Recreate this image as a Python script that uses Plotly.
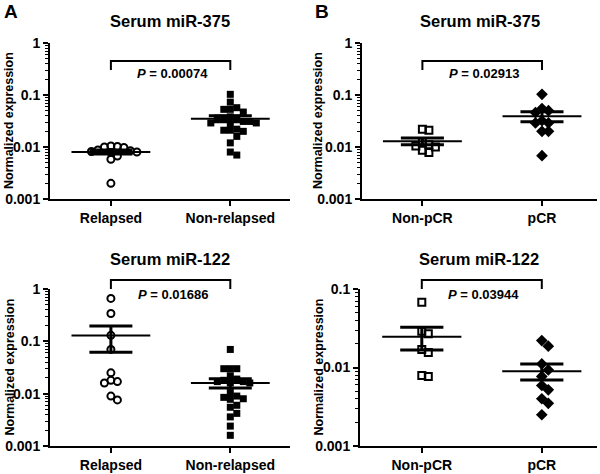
import numpy as np
import plotly.graph_objects as go

# ---------------- data ----------------
relapsed_375 = [0.0105, 0.0102, 0.0100, 0.0098, 0.0088, 0.0085, 0.0082, 0.0080, 0.0078, 0.0067, 0.0058, 0.0020]
nonrelapsed_375 = [0.103, 0.073, 0.057, 0.053, 0.053, 0.047, 0.038, 0.036, 0.036, 0.036, 0.031, 0.031,
                   0.029, 0.029, 0.028, 0.022, 0.021, 0.021, 0.020, 0.016, 0.012, 0.008, 0.007]
nonpcr_375 = [0.022, 0.021, 0.0125, 0.011, 0.0105, 0.0100, 0.0087, 0.0078]
pcr_375 = [0.103, 0.055, 0.050, 0.046, 0.032, 0.029, 0.029, 0.020, 0.020, 0.0068]

relapsed_122 = [0.66, 0.34, 0.13, 0.07, 0.025, 0.018, 0.017, 0.016, 0.0090, 0.0076]
nonrelapsed_122 = [0.070, 0.030, 0.030, 0.030, 0.022, 0.019, 0.018, 0.017, 0.017, 0.016, 0.016,
                   0.0105, 0.0090, 0.0085, 0.0080, 0.0078, 0.0060, 0.0055, 0.0042, 0.0036, 0.0024, 0.0016]
nonpcr_122 = [0.068, 0.029, 0.027, 0.017, 0.0155, 0.0079, 0.0077]
pcr_122 = [0.022, 0.0187, 0.0111, 0.0093, 0.0077, 0.0059, 0.0052, 0.0040, 0.0035, 0.0025]

groups_A = ["Relapsed", "Non-relapsed"]
groups_B = ["Non-pCR", "pCR"]
titles = ["Serum miR-375", "Serum miR-375", "Serum miR-122", "Serum miR-122"]
p_values = ["0.00074", "0.02913", "0.01686", "0.03944"]
y_label = "Normalized expression"
ytick_vals = [0.001, 0.01, 0.1, 1]
ytick_text = ["0.001", "0.01", "0.1", "1"]

# ---------------- layout geometry (pixels in the window) ----------------
W, H = 600, 474
FONT = "Arial, Liberation Sans, sans-serif"

panels = [
    dict(data=[relapsed_375, nonrelapsed_375], cats=groups_A, sym=["circle-open", "square"],
         x0=50, x1=290, ytop=43, ybot=199, yr=(-3, 0), xr=(-0.51, 1.5)),
    dict(data=[nonpcr_375, pcr_375], cats=groups_B, sym=["square-open", "diamond"],
         x0=362, x1=597, ytop=43, ybot=199, yr=(-3, 0), xr=(-0.505, 1.46)),
    dict(data=[relapsed_122, nonrelapsed_122], cats=groups_A, sym=["circle-open", "square"],
         x0=50, x1=290, ytop=289, ybot=446, yr=(-3, 0), xr=(-0.51, 1.5)),
    dict(data=[nonpcr_122, pcr_122], cats=groups_B, sym=["square-open", "diamond"],
         x0=360, x1=597, ytop=289, ybot=446, yr=(-3, -1), xr=(-0.515, 1.46)),
]


def swarm(vals, px_dec, px_unit, step, mind):
    """Simple beeswarm: horizontal offsets (in category units) so markers barely overlap."""
    y = np.log10(np.asarray(vals, dtype=float)) * px_dec
    order = np.argsort(-y)
    placed = []
    offs = np.zeros(len(vals))
    cands = [0.0]
    for j in range(1, 40):
        cands += [j * step, -j * step]
    for i in order:
        for c in cands:
            ok = True
            for (px, py) in placed:
                if (px - c) ** 2 + (py - y[i]) ** 2 < mind ** 2:
                    ok = False
                    break
            if ok:
                placed.append((c, y[i]))
                offs[i] = c / px_unit
                break
    return offs


def px2x(px):
    return px / W


def px2y(py):
    return 1 - py / H


fig = go.Figure()
layout = dict(width=W, height=H, margin=dict(l=0, r=0, t=0, b=0, pad=0, autoexpand=False),
              paper_bgcolor="white", plot_bgcolor="white", showlegend=False,
              font=dict(family=FONT, color="black"))
annotations = []
shapes = []

minor_vals = [m * 10.0 ** e for e in range(-3, 1) for m in range(2, 10)]

for k, p in enumerate(panels):
    n = k + 1
    xa = "x" if n == 1 else f"x{n}"
    ya = "y" if n == 1 else f"y{n}"
    xkey = "xaxis" if n == 1 else f"xaxis{n}"
    ykey = "yaxis" if n == 1 else f"yaxis{n}"
    px_unit = (p["x1"] - p["x0"]) / (p["xr"][1] - p["xr"][0])
    px_dec = (p["ybot"] - p["ytop"]) / (p["yr"][1] - p["yr"][0])

    layout[xkey] = dict(domain=[px2x(p["x0"]), px2x(p["x1"])], range=list(p["xr"]), anchor=ya,
                        showline=True, linecolor="black", linewidth=2, mirror=False,
                        ticks="outside", ticklen=5, tickwidth=2, tickcolor="black",
                        tickvals=[0, 1], ticktext=p["cats"], showgrid=False, zeroline=False,
                        tickfont=dict(size=14, family=FONT, color="black", weight="bold"),
                        automargin=False, fixedrange=True)
    layout[ykey] = dict(domain=[px2y(p["ybot"]), px2y(p["ytop"])], type="log", range=list(p["yr"]),
                        anchor=xa, showline=True, linecolor="black", linewidth=2,
                        ticks="outside", ticklen=5, tickwidth=2, tickcolor="black",
                        tickvals=ytick_vals, ticktext=ytick_text, showgrid=False, zeroline=False,
                        tickfont=dict(size=14, family=FONT, color="black", weight="bold"),
                        minor=dict(ticks="outside", ticklen=3, tickwidth=1, tickcolor="black",
                                   tickvals=minor_vals, showgrid=False),
                        automargin=False, fixedrange=True)

    for gi, vals in enumerate(p["data"]):
        vals = np.asarray(vals, dtype=float)
        offs = swarm(vals, px_dec, px_unit, 6.5, 6.3)
        sym = p["sym"][gi]
        is_open = sym.endswith("open")
        size = 9 if sym == "diamond" else 7
        fig.add_trace(go.Scatter(
            x=gi + offs, y=vals, mode="markers", xaxis=xa, yaxis=ya,
            marker=dict(symbol=sym, size=size, color="black",
                        line=dict(color="black", width=2 if is_open else 0)),
            hoverinfo="skip"))
        mean = vals.mean()
        sem = vals.std(ddof=1) / np.sqrt(len(vals))
        # mean line
        fig.add_trace(go.Scatter(x=[gi - 0.33, gi + 0.33], y=[mean, mean], mode="lines",
                                 xaxis=xa, yaxis=ya, line=dict(color="black", width=2),
                                 hoverinfo="skip"))
        # SEM bars
        for v in (mean + sem, mean - sem):
            fig.add_trace(go.Scatter(x=[gi - 0.18, gi + 0.18], y=[v, v], mode="lines",
                                     xaxis=xa, yaxis=ya, line=dict(color="black", width=3),
                                     hoverinfo="skip"))
        fig.add_trace(go.Scatter(x=[gi, gi], y=[mean - sem, mean + sem], mode="lines",
                                 xaxis=xa, yaxis=ya, line=dict(color="black", width=3),
                                 hoverinfo="skip"))

    # significance bracket
    if p["ytop"] < 100:
        b_top, b_bot, t_y = 61, 70, 73
    else:
        b_top, b_bot, t_y = 280, 289, 294
    xl = p["x0"] + (0 - p["xr"][0]) * px_unit
    xr_ = p["x0"] + (1 - p["xr"][0]) * px_unit
    shapes.append(dict(type="path", xref="paper", yref="paper",
                       path=f"M {px2x(xl)},{px2y(b_bot)} L {px2x(xl)},{px2y(b_top)} "
                            f"L {px2x(xr_)},{px2y(b_top)} L {px2x(xr_)},{px2y(b_bot)}",
                       line=dict(color="black", width=2)))
    annotations.append(dict(xref="paper", yref="paper", x=px2x((xl + xr_) / 2 + 2), y=px2y(t_y),
                            text=f"<b><i>P</i> = {p_values[k]}</b>", showarrow=False,
                            font=dict(size=13, family=FONT, color="black"),
                            xanchor="center", yanchor="middle"))
    # title
    title_y = 21 if p["ytop"] < 100 else 259
    annotations.append(dict(xref="paper", yref="paper", x=px2x((p["x0"] + p["x1"]) / 2),
                            y=px2y(title_y), text=f"<b>{titles[k]}</b>", showarrow=False,
                            font=dict(size=16.5, family=FONT, color="black"),
                            xanchor="center", yanchor="middle"))
    # y label
    lab_x = 9 if p["x0"] < 100 else 318
    annotations.append(dict(xref="paper", yref="paper", x=px2x(lab_x),
                            y=px2y((p["ytop"] + p["ybot"]) / 2), text=f"<b>{y_label}</b>",
                            showarrow=False, textangle=-90,
                            font=dict(size=12.5, family=FONT, color="black"),
                            xanchor="center", yanchor="middle"))

# panel letters
annotations.append(dict(xref="paper", yref="paper", x=px2x(11), y=px2y(11), text="<b>A</b>",
                        showarrow=False, font=dict(size=19, family=FONT, color="black"),
                        xanchor="center", yanchor="middle"))
annotations.append(dict(xref="paper", yref="paper", x=px2x(322), y=px2y(11), text="<b>B</b>",
                        showarrow=False, font=dict(size=19, family=FONT, color="black"),
                        xanchor="center", yanchor="middle"))

layout["annotations"] = annotations
layout["shapes"] = shapes
fig.update_layout(**layout)
# remove the default page margin so the 600x474 figure fills the window exactly
fig.write_html("out.html",
               config={"displayModeBar": False, "staticPlot": True},
               post_script="document.body.style.margin='0px';document.body.style.padding='0px';")
